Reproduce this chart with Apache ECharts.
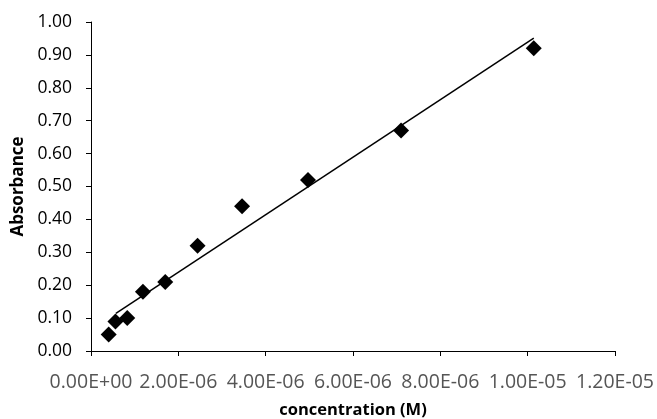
<!DOCTYPE html>
<html><head><meta charset="utf-8">
<script src="https://cdn.jsdelivr.net/npm/echarts@6/dist/echarts.min.js"></script>
<style>html,body{margin:0;padding:0;background:#fff}#c{width:657px;height:419px}</style>
</head><body><div id="c"></div>
<script>
const concentration = [0.405e-6, 0.56e-6, 0.83e-6, 1.19e-6, 1.70e-6, 2.44e-6, 3.46e-6, 4.97e-6, 7.10e-6, 10.14e-6];
const absorbance = [0.05, 0.09, 0.10, 0.18, 0.21, 0.32, 0.44, 0.52, 0.67, 0.92];
const trendX = [0.57e-6, 10.14e-6];
const trendY = [0.114, 0.951];
const xTitle = 'concentration (M)';
const yTitle = 'Absorbance';

const chart = echarts.init(document.getElementById('c'), null, {renderer: 'canvas'});
chart.setOption({
  animation: false,
  grid: {left: 91, right: 42, top: 22, bottom: 68, containLabel: false, outerBoundsMode: 'none'},
  xAxis: {
    type: 'value', min: 0, max: 1.2e-5, interval: 2e-6,
    name: xTitle, nameLocation: 'middle', nameGap: 51,
    nameTextStyle: {fontFamily: 'Open Sans', fontWeight: 'bold', fontSize: 16.5, color: '#000'},
    axisLine: {show: true, onZero: false, lineStyle: {color: '#000', width: 1}},
    axisTick: {show: true, inside: false, length: 5, lineStyle: {color: '#000'}},
    axisLabel: {
      margin: 21, fontFamily: 'Open Sans', fontSize: 19.5, color: '#555',
      formatter: v => { const s = v.toExponential(2).toUpperCase(); return s.replace(/E([+-])(\d)$/, 'E$10$2'); }
    },
    splitLine: {show: false}
  },
  yAxis: {
    type: 'value', min: 0, max: 1, interval: 0.1,
    name: yTitle, nameLocation: 'middle', nameGap: 64, nameRotate: 90,
    nameTextStyle: {fontFamily: 'Open Sans', fontWeight: 'bold', fontSize: 17, color: '#000'},
    axisLine: {show: true, lineStyle: {color: '#000', width: 1}},
    axisTick: {show: true, inside: false, length: 5, lineStyle: {color: '#000'}},
    axisLabel: {margin: 19, fontFamily: 'Open Sans', fontSize: 17.5, color: '#000', formatter: v => v.toFixed(2)},
    splitLine: {show: false}
  },
  series: [
    {
      type: 'line', data: trendX.map((x, i) => [x, trendY[i]]),
      showSymbol: false, symbol: 'none', lineStyle: {color: '#000', width: 1.5}, silent: true, z: 1
    },
    {
      type: 'scatter', data: concentration.map((x, i) => [x, absorbance[i]]),
      symbol: 'diamond', symbolSize: 16, itemStyle: {color: '#000', opacity: 1}, z: 2
    }
  ]
});
</script></body></html>
